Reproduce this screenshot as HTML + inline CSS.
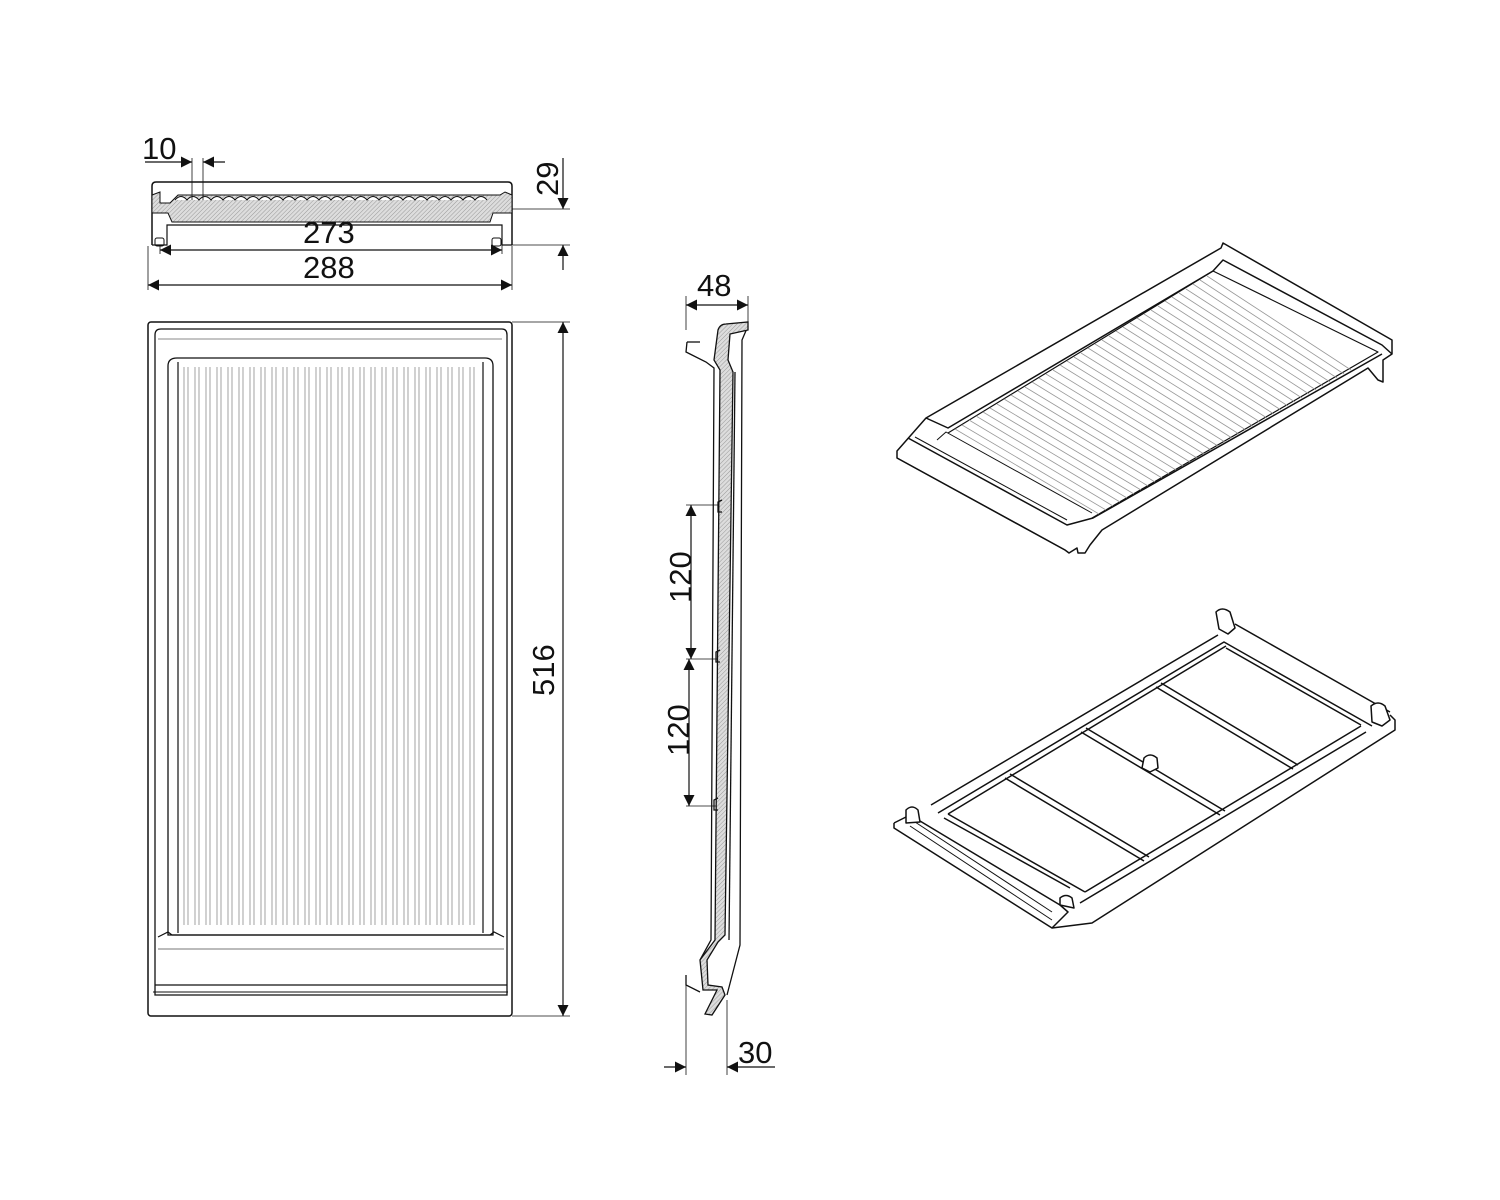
<!DOCTYPE html>
<html><head><meta charset="utf-8"><style>
html,body{margin:0;padding:0;background:#fff;}
svg{display:block;}
text{font-family:"Liberation Sans",sans-serif;fill:#111;}
</style></head><body>
<svg width="1500" height="1200" viewBox="0 0 1500 1200" xmlns="http://www.w3.org/2000/svg">
<defs>
<marker id="a" viewBox="0 0 10 10" refX="10" refY="5" markerWidth="17" markerHeight="11" markerUnits="userSpaceOnUse" orient="auto-start-reverse"><path d="M0,0 L10,5 L0,10 Z" fill="#111"/></marker>
<pattern id="h" width="3" height="3" patternUnits="userSpaceOnUse" patternTransform="rotate(45)"><rect width="3" height="3" fill="#ddd"/><line x1="0" y1="0" x2="0" y2="3" stroke="#999" stroke-width="1"/></pattern>
</defs>
<g fill="none" stroke="#111" stroke-width="1.5">
<path d="M152,245 L152,186 Q152,182 156,182 L508,182 Q512,182 512,186 L512,245" />
<path d="M152,245 L167,245 L167,225 L502,225 L502,245 L512,245" stroke-width="1.2"/>
<path d="M152,195 L160,192 L160,203 L170,203 L178,195 L500,195 L505,192 L512,195 L512,213 L493,213 L490,222 L172,222 L168,213 L152,213 Z" fill="url(#h)" stroke-width="1"/>
<path d="M175,200 Q181,193 187,200 Q193,193 199,200 Q205,193 211,200 Q217,193 223,200 Q229,193 235,200 Q241,193 247,200 Q253,193 259,200 Q265,193 271,200 Q277,193 283,200 Q289,193 295,200 Q301,193 307,200 Q313,193 319,200 Q325,193 331,200 Q337,193 343,200 Q349,193 355,200 Q361,193 367,200 Q373,193 379,200 Q385,193 391,200 Q397,193 403,200 Q409,193 415,200 Q421,193 427,200 Q433,193 439,200 Q445,193 451,200 Q457,193 463,200 Q469,193 475,200 Q481,193 487,200" stroke-width="1" fill="#fff"/>
<rect x="155" y="238" width="9" height="8" rx="2" stroke-width="1"/>
<rect x="492" y="238" width="9" height="8" rx="2" stroke-width="1"/>
</g>
<g stroke="#111" stroke-width="0.8" fill="none">
<line x1="192" y1="158" x2="192" y2="200"/><line x1="203" y1="158" x2="203" y2="200"/>
<line x1="148" y1="246" x2="148" y2="290"/><line x1="512" y1="246" x2="512" y2="290"/>
<line x1="160" y1="245" x2="160" y2="254"/><line x1="502" y1="245" x2="502" y2="254"/>
<line x1="512" y1="209" x2="570" y2="209"/><line x1="512" y1="245" x2="570" y2="245"/>
<line x1="512" y1="322" x2="570" y2="322"/><line x1="512" y1="1016" x2="570" y2="1016"/>
<line x1="686" y1="296" x2="686" y2="330"/><line x1="748" y1="296" x2="748" y2="325"/>
<line x1="686" y1="985" x2="686" y2="1075"/><line x1="727" y1="1000" x2="727" y2="1075"/>
<line x1="686" y1="505" x2="722" y2="505"/><line x1="686" y1="659" x2="722" y2="659"/><line x1="686" y1="806" x2="722" y2="806"/>
</g>
<g stroke="#111" stroke-width="1.2" fill="none">
<line x1="145" y1="162" x2="192" y2="162" marker-end="url(#a)"/>
<line x1="225" y1="162" x2="203" y2="162" marker-end="url(#a)"/>
<line x1="160" y1="250" x2="502" y2="250" marker-start="url(#a)" marker-end="url(#a)"/>
<line x1="148" y1="285" x2="512" y2="285" marker-start="url(#a)" marker-end="url(#a)"/>
<line x1="563" y1="158" x2="563" y2="209" marker-end="url(#a)"/>
<line x1="563" y1="270" x2="563" y2="245" marker-end="url(#a)"/>
<line x1="563" y1="322" x2="563" y2="1016" marker-start="url(#a)" marker-end="url(#a)"/>
<line x1="686" y1="305" x2="748" y2="305" marker-start="url(#a)" marker-end="url(#a)"/>
<line x1="691" y1="505" x2="691" y2="659" marker-start="url(#a)" marker-end="url(#a)"/>
<line x1="689" y1="659" x2="689" y2="806" marker-start="url(#a)" marker-end="url(#a)"/>
<line x1="664" y1="1067" x2="686" y2="1067" marker-end="url(#a)"/>
<line x1="775" y1="1067" x2="727" y2="1067" marker-end="url(#a)"/>
</g>
<g font-size="31">
<text x="142" y="159">10</text>
<text x="303" y="243">273</text>
<text x="303" y="278">288</text>
<text x="0" y="0" transform="translate(558,196) rotate(-90)">29</text>
<text x="0" y="0" transform="translate(554,696) rotate(-90)">516</text>
<text x="697" y="296">48</text>
<text x="0" y="0" transform="translate(691,603) rotate(-90)">120</text>
<text x="0" y="0" transform="translate(689,756) rotate(-90)">120</text>
<text x="738" y="1063">30</text>
</g>

<g fill="none" stroke="#111">
<rect x="148" y="322" width="364" height="694" rx="3" stroke-width="1.5"/>
<path d="M155,335 Q155,329 161,329 L502,329 Q507,329 507,335 L507,995 L155,995 Z" stroke-width="1.3"/>
<line x1="158" y1="339" x2="502" y2="339" stroke="#888" stroke-width="1"/>
<path d="M168,366 Q168,358 177,358 L485,358 Q493,358 493,366 L493,935 L168,935 Z" stroke-width="1.3"/>
<path d="M158,937 L168,932 L172,935 L490,935 L494,932 L504,937" stroke-width="1.2"/>
<line x1="158" y1="949" x2="504" y2="949" stroke="#777" stroke-width="1"/>
<line x1="155" y1="985" x2="507" y2="985" stroke-width="1.3"/>
<line x1="153" y1="992" x2="508" y2="992" stroke-width="1"/>
<line x1="178" y1="362" x2="178" y2="933" stroke-width="1.2"/>
<line x1="483" y1="362" x2="483" y2="933" stroke-width="1.2"/>
</g>
<g stroke="#999" stroke-width="0.9" fill="none">
<path d="M184,367V925M188,367V925M195,367V925M199,367V925M206,367V925M210,367V925M217,367V925M221,367V925M228,367V925M232,367V925M239,367V925M243,367V925M250,367V925M254,367V925M261,367V925M265,367V925M272,367V925M276,367V925M283,367V925M287,367V925M294,367V925M298,367V925M305,367V925M309,367V925M316,367V925M320,367V925M327,367V925M331,367V925M338,367V925M342,367V925M349,367V925M353,367V925M360,367V925M364,367V925M371,367V925M375,367V925M382,367V925M386,367V925M393,367V925M397,367V925M404,367V925M408,367V925M415,367V925M419,367V925M426,367V925M430,367V925M437,367V925M441,367V925M448,367V925M452,367V925M459,367V925M463,367V925M470,367V925M474,367V925"/>
</g>

<g fill="none" stroke="#111" stroke-width="1.3">
<path d="M748,326 L742,340 L740,945 L727,995"/>
<path d="M687,342 L686,352 L690,354 L706,362 L714,368 L711,940 L700,960"/>
<path d="M687,342 L700,342"/>
<path d="M718,330 Q720,324 726,324 L748,322 L748,330 L730,334 L728,360 L733,372 L725,935 L718,942 L707,960 L708,985 L722,987 L725,995 L712,1015 L705,1014 L717,990 L703,990 L700,960 L715,940 L720,370 L714,360 Z" fill="url(#h)"/>
<line x1="735" y1="372" x2="729" y2="940"/>
<path d="M722,500 L718,502 L718,512 L722,512"/>
<path d="M720,650 L716,652 L716,662 L720,662"/>
<path d="M718,798 L714,800 L714,810 L718,810"/>
<path d="M686,975 L686,985 L700,992"/>
</g>

<g fill="none" stroke="#111" stroke-width="1.5" stroke-linejoin="round">
<path d="M897,451 L926,418 L1221,248 L1223,243 L1392,340 L1392,354 L1383,360 L1383,382 L1378,380 L1368,368 L1102,530 L1090,545 L1085,553 L1078,553 L1077,548 L1069,553 L1065,550 L897,458 Z"/>
<path d="M926,418 L948,428 L1213,271 L1223,260 L1382,345 L1392,354"/>
<path d="M908,438 L1067,525 L1093,518 L1382,354"/>
<path d="M915,437 L1067,520" stroke-width="1"/>
<path d="M937,440 L946,432 L1092,513" stroke-width="1"/>
<path d="M948,433 L1213,271 L1378,352 L1092,518" stroke-width="1.2"/>
<path d="M897,458 L1065,550" stroke-width="1.2"/>
</g>
<g stroke="#999" stroke-width="0.8">
<path d="M955,429L1099,514M962,425L1106,510M969,420L1113,506M976,416L1120,502M983,412L1127,498M990,408L1134,494M997,404L1141,490M1004,399L1148,486M1011,395L1155,482M1018,391L1162,478M1025,387L1169,474M1032,382L1176,470M1039,378L1183,466M1046,374L1190,462M1053,370L1197,458M1060,365L1204,454M1067,361L1211,450M1074,357L1218,446M1081,353L1225,442M1088,348L1232,438M1095,344L1239,434M1102,340L1246,430M1109,336L1253,426M1116,331L1260,422M1123,327L1267,418M1130,323L1274,414M1137,318L1281,410M1144,314L1288,406M1151,310L1295,402M1158,306L1302,398M1165,301L1309,394M1172,297L1316,390M1179,293L1323,386M1186,289L1330,382M1193,284L1337,378M1200,280L1344,374M1207,276L1351,370"/>
</g>

<g fill="none" stroke="#111" stroke-width="1.5" stroke-linejoin="round">
<path d="M894,823 L894,828 L1052,928 L1092,923 L1395,730 L1395,720 L1390,715"/>
<path d="M931,805 L1218,635 M1235,624 L1390,712"/>
<path d="M938,813 L1224,642 L1372,726 M1226,648 L1361,725 M948,814 L1226,646"/>
<path d="M1085,892 L1361,726 M1080,903 L1366,732"/>
<path d="M948,814 L1085,892 M944,818 L1070,888"/>
<path d="M894,823 L910,815 L1060,905 L1068,912 L1052,928"/>
<path d="M910,826 L1052,920" stroke-width="1"/>
<path d="M912,820 L1052,912" stroke-width="1"/>
<path d="M1005,778 L1144,861 M1010,774 L1149,857"/>
<path d="M1081,732 L1220,815 M1086,728 L1225,811"/>
<path d="M1156,687 L1293,769 M1161,683 L1298,765"/>
<path d="M1219,629 L1216,612 Q1222,606 1230,612 L1235,628 L1228,634 Z" fill="#fff"/>
<path d="M1372,722 L1371,706 Q1378,700 1385,706 L1390,720 L1382,726 Z" fill="#fff"/>
<path d="M906,823 L906,810 Q912,804 918,810 L920,822 Z" fill="#fff"/>
<path d="M1060,905 L1060,898 Q1066,893 1072,898 L1074,908 Z" fill="#fff"/>
<path d="M1142,768 L1144,758 Q1150,752 1157,758 L1158,768 L1150,772 Z" fill="#fff"/>
</g>
</svg>
</body></html>
